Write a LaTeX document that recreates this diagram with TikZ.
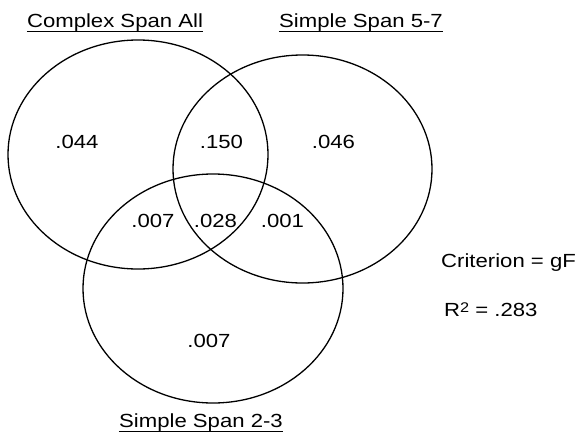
\documentclass[tikz,border=0pt]{standalone}
\usepackage{fontspec}
\usepackage{graphicx}
\setmainfont{Liberation Sans}
% wide-set label text
\newcommand{\stretchtxt}[1]{\scalebox{1.165}[1]{#1}}
\tikzset{
  setcircle/.style={line width=1.3pt},
  lbl/.style={inner sep=0pt, anchor=base, font=\fontsize{19}{22}\selectfont},
  lblleft/.style={lbl, anchor=base west},
  uline/.style={line width=1.3pt},
}
\begin{document}
\begin{tikzpicture}[x=1pt, y=-1pt]
  \useasboundingbox (0,0) rectangle (576,434);
  \fill[white] (0,0) rectangle (576,434);

  % the three sets
  \draw[setcircle] (138,154.5) ellipse [x radius=130pt, y radius=114.5pt];
  \draw[setcircle] (302.5,169) ellipse [x radius=129.5pt, y radius=114pt];
  \draw[setcircle] (213,288.5) ellipse [x radius=130pt, y radius=114.5pt];

  % set titles
  \node[lbl] (tcomplex) at (115,27.5) {\stretchtxt{Complex Span All}};
  \node[lbl] (tfive) at (361,27.5) {\stretchtxt{Simple Span 5-7}};
  \node[lbl] (ttwo) at (201,427) {\stretchtxt{Simple Span 2-3}};
  \foreach \t in {tcomplex,tfive,ttwo}
    \draw[uline] ([yshift=-4.2pt]\t.base west) -- ([yshift=-4.2pt]\t.base east);

  % region values
  \node[lbl] (vA) at (77,148.5) {\stretchtxt{.044}};
  \node[lbl] (vAB) at (221.5,148.5) {\stretchtxt{.150}};
  \node[lbl] (vB) at (333.5,148.5) {\stretchtxt{.046}};
  \node[lbl] (vAC) at (153,227) {\stretchtxt{.007}};
  \node[lbl] (vABC) at (215.5,227) {\stretchtxt{.028}};
  \node[lbl] (vBC) at (282.5,227) {\stretchtxt{.001}};
  \node[lbl] (vC) at (209,347) {\stretchtxt{.007}};

  % model summary
  \node[lblleft] (crit) at (441,267) {\stretchtxt{Criterion = gF}};
  \node[lblleft] (rsq) at (444,316)
    {\stretchtxt{R\raisebox{4pt}{\fontsize{14}{14}\selectfont 2} = .283}};
\end{tikzpicture}
\end{document}
